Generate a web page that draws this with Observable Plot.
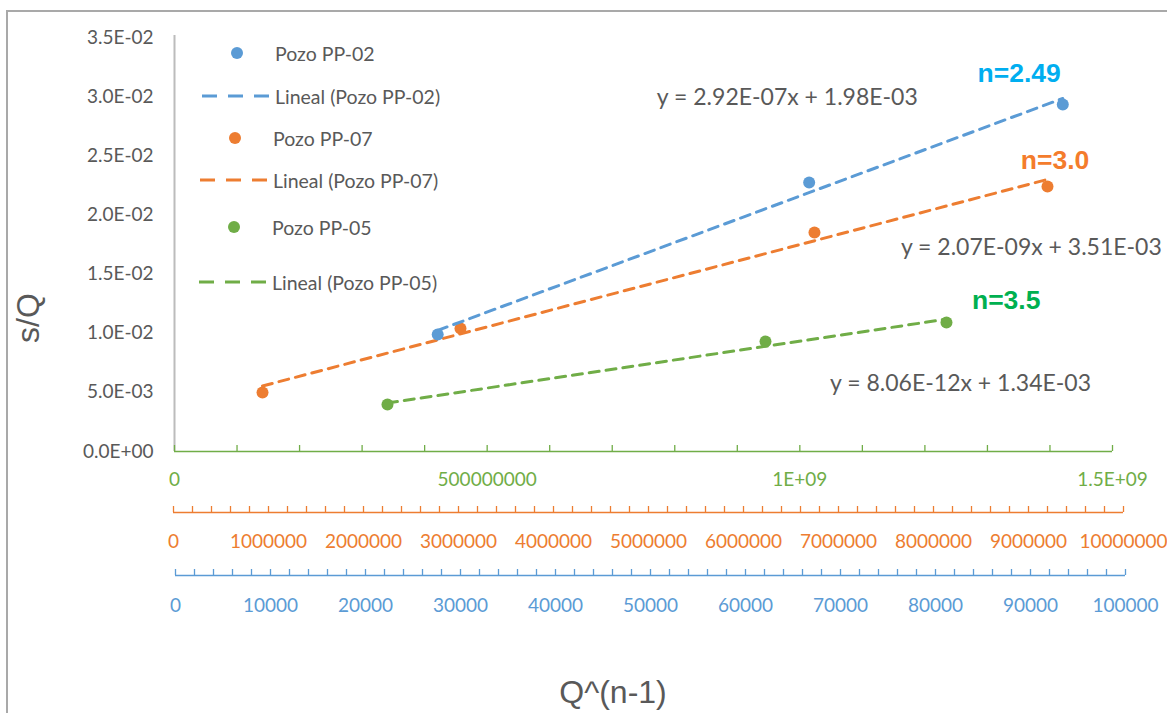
<!DOCTYPE html>
<html>
<head>
<meta charset="utf-8">
<script src="https://cdn.jsdelivr.net/npm/d3@7"></script>
<script src="https://cdn.jsdelivr.net/npm/@observablehq/plot@0.6"></script>
<style>
  html, body { margin: 0; padding: 0; background: #fff; }
  #wrap { position: relative; width: 1167px; height: 713px; overflow: hidden; background: #fff; font-family: Lato, "Open Sans", sans-serif; }
  #wrap svg.layer { position: absolute; left: 0; top: 0; overflow: visible; }
  #border { position: absolute; left: 6px; top: 10px; width: 1250px; height: 800px; border: 2px solid #a9a9a9; }
  .legtxt { position: absolute; white-space: nowrap; font-size: 19.5px; color: #595959; transform: translateY(-50%); }
  .legdot { position: absolute; width: 12px; height: 12px; border-radius: 50%; }
  .title { position: absolute; font-family: "Liberation Sans", Arial, sans-serif; font-size: 32px; color: #595959; white-space: nowrap; }
</style>
</head>
<body>
<div id="wrap"><div id="border"></div></div>
<script>
// ---------- data ----------
const seriesNames = ["Pozo PP-02", "Pozo PP-07", "Pozo PP-05"];
const trendNames = ["Lineal (Pozo PP-02)", "Lineal (Pozo PP-07)", "Lineal (Pozo PP-05)"];

const pp02X = [27600, 66700, 93400];
const pp02Y = [0.00989, 0.02274, 0.02934];
const pp07X = [937000, 3021000, 6747000, 9200000];
const pp07Y = [0.00499, 0.01040, 0.01851, 0.02240];
const pp05X = [340600000, 945100000, 1234500000];
const pp05Y = [0.00397, 0.00930, 0.01091];

const yTicks = [0, 0.005, 0.01, 0.015, 0.02, 0.025, 0.03, 0.035];
const yTickLabels = ["0.0E+00", "5.0E-03", "1.0E-02", "1.5E-02", "2.0E-02", "2.5E-02", "3.0E-02", "3.5E-02"];

const pp05Ticks = [0, 500000000, 1000000000, 1500000000];
const pp05TickLabels = ["0", "500000000", "1E+09", "1.5E+09"];
const pp07Ticks = [0, 1000000, 2000000, 3000000, 4000000, 5000000, 6000000, 7000000, 8000000, 9000000, 10000000];
const pp07TickLabels = ["0", "1000000", "2000000", "3000000", "4000000", "5000000", "6000000", "7000000", "8000000", "9000000", "10000000"];
const pp02Ticks = [0, 10000, 20000, 30000, 40000, 50000, 60000, 70000, 80000, 90000, 100000];
const pp02TickLabels = ["0", "10000", "20000", "30000", "40000", "50000", "60000", "70000", "80000", "90000", "100000"];

const equations = ["y = 2.92E-07x + 1.98E-03", "y = 2.07E-09x + 3.51E-03", "y = 8.06E-12x + 1.34E-03"];
const exponents = ["n=2.49", "n=3.0", "n=3.5"];

// annotation anchors (data units of each series' own x axis)
const eqAnchorX = [64400, 9030000, 1257000000];
const eqAnchorY = [0.02993, 0.01725, 0.00575];
const nAnchorX = [88800, 9280000, 1330000000];
const nAnchorY = [0.03196, 0.0246, 0.01277];

// ---------- layout ----------
const W = 1167, H = 713;
const TOP = 37, BOTTOM = 451;
const blue = "#5b9bd5", orange = "#ed7d31", green = "#70ad47";
const nColors = ["#00aef0", "#f47c2c", "#00b050"];

const layers = [
  { // PP-05, green axis (main)
    idx: 2, color: green, xs: pp05X, ys: pp05Y, domain: [0, 1500000000], x0: 174, x1: 1112,
    offset: 0, minorStep: 100000000, ticks: pp05Ticks, labels: pp05TickLabels, labelDy: 28, main: true
  },
  { // PP-07, orange axis
    idx: 1, color: orange, xs: pp07X, ys: pp07Y, domain: [0, 10000000], x0: 173, x1: 1123,
    offset: 61, minorStep: 200000, ticks: pp07Ticks, labels: pp07TickLabels, labelDy: 90
  },
  { // PP-02, blue axis
    idx: 0, color: blue, xs: pp02X, ys: pp02Y, domain: [0, 100000], x0: 175, x1: 1125,
    offset: 124, minorStep: 2000, ticks: pp02Ticks, labels: pp02TickLabels, labelDy: 154
  }
];

const wrap = document.getElementById("wrap");
const frameH = BOTTOM - TOP;

for (const L of layers) {
  const pts = L.xs.map((x, i) => ({x, y: L.ys[i]}));
  const minor = d3.range(L.domain[0], L.domain[1] + L.minorStep / 2, L.minorStep);
  const tickData = L.ticks.map((v, i) => ({v, label: L.labels[i]}));
  const marks = [];
  if (L.main) {
    marks.push(Plot.ruleX([0], {stroke: "#bcbcbc", strokeWidth: 2, insetTop: -2}));
    marks.push(Plot.text(yTicks.map((v, i) => ({v, label: yTickLabels[i]})), {
      y: "v", text: "label", frameAnchor: "left", dx: -21, textAnchor: "end",
      fill: "#595959", fontSize: 19, fontFamily: "Lato"
    }));
  }
  marks.push(
    Plot.ruleY([0], {stroke: L.color, strokeWidth: 1.6, dy: L.offset}),
    Plot.ruleX(minor, {x: d => d, stroke: L.color, strokeWidth: 1.3, insetTop: frameH + L.offset - 6, insetBottom: -L.offset}),
    Plot.text(tickData, {x: "v", text: "label", frameAnchor: "bottom", dy: L.labelDy, lineAnchor: "middle",
      fill: L.color, fontSize: 19, fontFamily: "Lato"}),
    Plot.linearRegressionY(pts, {x: "x", y: "y", ci: 0, stroke: L.color, strokeWidth: 3, strokeDasharray: "10,7"}),
    Plot.dot(pts, {x: "x", y: "y", r: 6, fill: L.color}),
    Plot.text([{x: eqAnchorX[L.idx], y: eqAnchorY[L.idx], t: equations[L.idx]}], {
      x: "x", y: "y", text: "t", fill: "#595959", fontSize: 23, fontFamily: "Lato"
    }),
    Plot.text([{x: nAnchorX[L.idx], y: nAnchorY[L.idx], t: exponents[L.idx]}], {
      x: "x", y: "y", text: "t", fill: nColors[L.idx], fontSize: 26.5, fontWeight: "bold",
      fontFamily: "Liberation Sans, Arial, sans-serif"
    })
  );
  const svg = Plot.plot({
    width: W, height: H,
    marginLeft: L.x0, marginRight: W - L.x1, marginTop: TOP, marginBottom: H - BOTTOM,
    x: {domain: L.domain, axis: null},
    y: {domain: [0, 0.035], axis: null},
    style: {background: "transparent", overflow: "visible"},
    marks
  });
  svg.classList.add("layer");
  wrap.appendChild(svg);
}

// ---------- legend ----------
const legendRows = [
  {kind: "dot", color: blue, text: seriesNames[0], y: 53},
  {kind: "line", color: blue, text: trendNames[0], y: 96},
  {kind: "dot", color: orange, text: seriesNames[1], y: 138},
  {kind: "line", color: orange, text: trendNames[1], y: 180},
  {kind: "dot", color: green, text: seriesNames[2], y: 227},
  {kind: "line", color: green, text: trendNames[2], y: 282}
];
legendRows.forEach((r, i) => {
  const shift = i >= 4 ? -3 : (i >= 2 ? -2 : 0);
  if (r.kind === "dot") {
    const d = document.createElement("div");
    d.className = "legdot";
    d.style.left = (237 + shift - 6) + "px";
    d.style.top = (r.y - 6) + "px";
    d.style.background = r.color;
    wrap.appendChild(d);
  } else {
    const s = document.createElementNS("http://www.w3.org/2000/svg", "svg");
    s.setAttribute("width", 70); s.setAttribute("height", 6);
    s.style.position = "absolute"; s.style.left = (201 + shift) + "px"; s.style.top = (r.y - 3) + "px";
    const ln = document.createElementNS("http://www.w3.org/2000/svg", "line");
    ln.setAttribute("x1", 1); ln.setAttribute("x2", 68); ln.setAttribute("y1", 3); ln.setAttribute("y2", 3);
    ln.setAttribute("stroke", r.color); ln.setAttribute("stroke-width", 3);
    ln.setAttribute("stroke-dasharray", "15,11");
    s.appendChild(ln);
    wrap.appendChild(s);
  }
  const t = document.createElement("div");
  t.className = "legtxt";
  t.style.left = (275 + shift) + "px";
  t.style.top = r.y + "px";
  t.textContent = r.text;
  wrap.appendChild(t);
});

// ---------- axis titles ----------
const yTitle = document.createElement("div");
yTitle.className = "title";
yTitle.textContent = "s/Q";
yTitle.style.left = "28px"; yTitle.style.top = "318px";
yTitle.style.transform = "translate(-50%,-50%) rotate(-90deg)";
wrap.appendChild(yTitle);

const xTitle = document.createElement("div");
xTitle.className = "title";
xTitle.textContent = "Q^(n-1)";
xTitle.style.left = "613px"; xTitle.style.top = "692px";
xTitle.style.transform = "translate(-50%,-50%)";
wrap.appendChild(xTitle);
</script>
</body>
</html>
